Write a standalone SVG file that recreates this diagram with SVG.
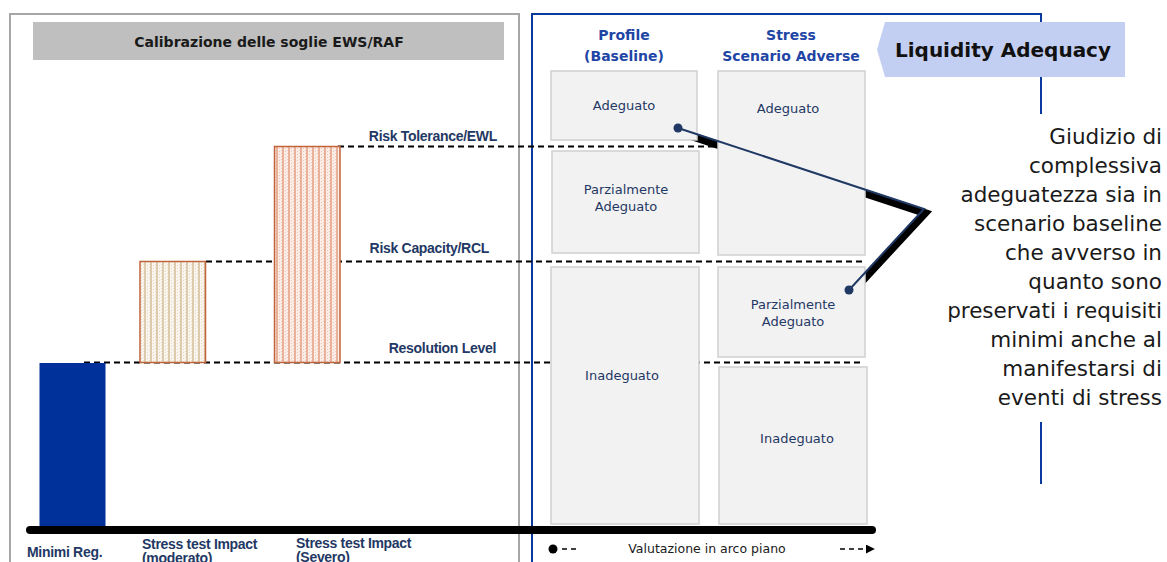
<svg xmlns="http://www.w3.org/2000/svg" width="1167" height="562" viewBox="0 0 1167 562">
<style>
.lbl{font-family:"Liberation Sans",Arial,sans-serif;font-weight:bold;font-size:14px;letter-spacing:-0.3px;fill:#1f3864}
.hdr{font-family:"DejaVu Sans",sans-serif;font-weight:bold;font-size:14px;fill:#1f45a5;text-anchor:middle}
.box{fill:#f2f2f2;stroke:#d0d0d0;stroke-width:1.5}
.bt{font-family:"DejaVu Sans",sans-serif;font-size:13px;fill:#1f3864;text-anchor:middle}
.dash{stroke:#000;stroke-width:2;stroke-dasharray:6 4;fill:none}
.side{font-family:"DejaVu Sans",sans-serif;font-size:21.5px;fill:#1a1a1a;text-anchor:end}
.bar{stroke:#c0643c;stroke-width:1.5}
</style>
<defs>
<pattern id="pmod" width="6" height="3" patternUnits="userSpaceOnUse">
<rect width="6" height="3" fill="#faf6ef"/>
<rect x="0" y="0" width="2" height="3" fill="#dccbac"/>
<rect x="3" y="1" width="1" height="1" fill="#e6d8c0"/>
<rect x="5" y="0" width="1" height="1" fill="#eadfcb"/>
</pattern>
<pattern id="psev" width="6" height="3" patternUnits="userSpaceOnUse">
<rect width="6" height="3" fill="#fbeee8"/>
<rect x="0" y="0" width="2" height="3" fill="#eab19a"/>
<rect x="3" y="1" width="1" height="1" fill="#efc3b1"/>
<rect x="5" y="0" width="1" height="1" fill="#f2cdbf"/>
</pattern>
<marker id="arr" viewBox="0 0 10 10" refX="9" refY="5" markerWidth="6" markerHeight="6" orient="auto" markerUnits="strokeWidth">
<path d="M0,0 L10,5 L0,10 z" fill="#000"/>
</marker>
</defs>
<rect width="1167" height="562" fill="#fff"/>

<g id="left-panel">
<rect x="10" y="14" width="509" height="570" fill="none" stroke="#a6a6a6" stroke-width="2"/>
<rect x="33" y="22" width="471" height="38" fill="#bfbfbf"/>
<text x="269" y="47" font-family="DejaVu Sans,sans-serif" font-weight="bold" font-size="14" fill="#1a1a1a" text-anchor="middle">Calibrazione delle soglie EWS/RAF</text>
</g>

<g id="right-panel">
<path d="M532,570 L532,14 L1041,14 L1041,30" fill="none" stroke="#0a3a9e" stroke-width="2"/>
<path d="M1041,70 L1041,114 M1041,422 L1041,484" fill="none" stroke="#0a3a9e" stroke-width="2"/>
</g>

<g id="thresholds">
<line class="dash" x1="338" y1="146.5" x2="718" y2="146.5"/>
<line class="dash" x1="206" y1="261.5" x2="865" y2="261.5"/>
<line class="dash" x1="84" y1="362.5" x2="860" y2="362.5"/>
<text class="lbl" x="497" y="141" text-anchor="end">Risk Tolerance/EWL</text>
<text class="lbl" x="489" y="253" text-anchor="end">Risk Capacity/RCL</text>
<text class="lbl" x="496" y="353" text-anchor="end">Resolution Level</text>
</g>

<g id="bar-minimi">
<rect x="39.5" y="363" width="66" height="165" fill="#00309a"/>
</g>
<g id="bar-moderato">
<rect class="bar" x="140" y="261.5" width="65.5" height="101" fill="url(#pmod)"/>
</g>
<g id="bar-severo">
<rect class="bar" x="274.5" y="146.5" width="65.5" height="216" fill="url(#psev)"/>
</g>

<g id="axis">
<line x1="30" y1="530" x2="872" y2="530" stroke="#000" stroke-width="8" stroke-linecap="round"/>
<text class="lbl" x="27" y="557">Minimi Reg.</text>
<text class="lbl" x="142" y="549">Stress test Impact</text>
<text class="lbl" x="142" y="563">(moderato)</text>
<text class="lbl" x="296" y="548">Stress test Impact</text>
<text class="lbl" x="296" y="562">(Severo)</text>
</g>

<g id="connector-shadow">
<path d="M678,128 L924,209 L849,290" transform="translate(1,4)" fill="none" stroke="#000" stroke-width="8" stroke-linejoin="miter"/>
</g>

<g id="headers">
<text class="hdr" x="624" y="40">Profile</text>
<text class="hdr" x="624" y="61">(Baseline)</text>
<text class="hdr" x="791" y="40">Stress</text>
<text class="hdr" x="791" y="61">Scenario Adverse</text>
</g>

<g id="base-adeguato">
<rect class="box" x="551" y="71" width="146" height="69"/>
<text class="bt" x="624" y="110">Adeguato</text>
</g>
<g id="base-parzialmente">
<rect class="box" x="552" y="151" width="147" height="102"/>
<text class="bt" x="626" y="194">Parzialmente</text>
<text class="bt" x="626" y="211">Adeguato</text>
</g>
<g id="base-inadeguato">
<rect class="box" x="551" y="267" width="148" height="257"/>
<text class="bt" x="622" y="380">Inadeguato</text>
</g>
<g id="stress-adeguato">
<rect class="box" x="718" y="71" width="147" height="184"/>
<text class="bt" x="788" y="113">Adeguato</text>
</g>
<g id="stress-parzialmente">
<rect class="box" x="718" y="267" width="147" height="90"/>
<text class="bt" x="793" y="309">Parzialmente</text>
<text class="bt" x="793" y="326">Adeguato</text>
</g>
<g id="stress-inadeguato">
<rect class="box" x="719" y="367" width="148" height="157"/>
<text class="bt" x="797" y="443">Inadeguato</text>
</g>

<g id="connectors">
<path d="M678,128 L924,209 L849,290" fill="none" stroke="#1f3864" stroke-width="2"/>
<circle cx="678" cy="128" r="4.5" fill="#1f3864"/>
<circle cx="849" cy="290" r="4.5" fill="#1f3864"/>
</g>

<g id="liquidity-adequacy">
<polygon points="885,22 1125,22 1125,77 885,77 877,49.5" fill="#c3cff2"/>
<text x="1003" y="57" font-family="DejaVu Sans,sans-serif" font-weight="bold" font-size="20" fill="#111" text-anchor="middle">Liquidity Adequacy</text>
</g>

<g id="giudizio">
<text class="side" x="1162" y="144">Giudizio di</text>
<text class="side" x="1162" y="173">complessiva</text>
<text class="side" x="1162" y="202">adeguatezza sia in</text>
<text class="side" x="1162" y="231">scenario baseline</text>
<text class="side" x="1162" y="260">che avverso in</text>
<text class="side" x="1162" y="289">quanto sono</text>
<text class="side" x="1162" y="318">preservati i requisiti</text>
<text class="side" x="1162" y="347">minimi anche al</text>
<text class="side" x="1162" y="376">manifestarsi di</text>
<text class="side" x="1162" y="405">eventi di stress</text>
</g>

<g id="legend">
<circle cx="553" cy="549" r="4.5" fill="#000"/>
<line x1="562" y1="549" x2="580" y2="549" stroke="#000" stroke-width="1.5" stroke-dasharray="5 4"/>
<text x="707" y="553" font-family="DejaVu Sans,sans-serif" font-size="12.5" fill="#1a1a1a" text-anchor="middle">Valutazione in arco piano</text>
<line x1="840" y1="549" x2="874" y2="549" stroke="#000" stroke-width="1.5" stroke-dasharray="5 4" marker-end="url(#arr)"/>
</g>
</svg>
